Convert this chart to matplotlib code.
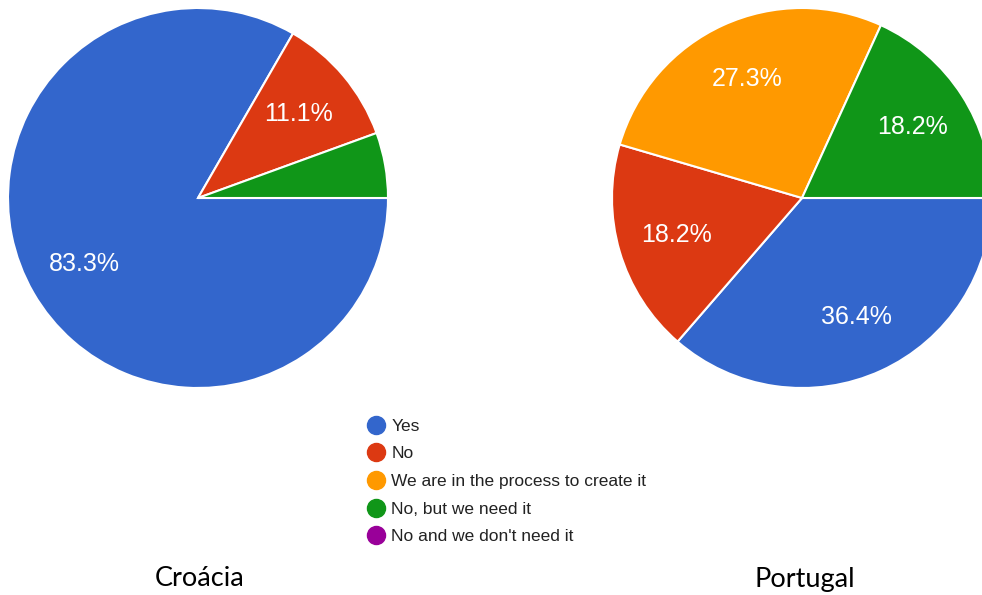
import matplotlib.pyplot as plt
from matplotlib.lines import Line2D

# answer categories (legend order)
categories = ["Yes", "No", "We are in the process to create it",
              "No, but we need it", "No and we don't need it"]
colors = ["#3366CC", "#DC3912", "#FF9900", "#109618", "#990099"]

# response counts per country
croacia = [15, 2, 0, 1, 0]
portugal = [4, 2, 3, 2, 0]

W, H = 982, 595
fig = plt.figure(figsize=(W / 100, H / 100), dpi=100)


def pie_axes(cx, cy, r):
    # axes in pixel coords (top-left origin) -> figure fraction
    return fig.add_axes([(cx - r) / W, (H - cy - r) / H, 2 * r / W, 2 * r / H])


def draw_pie(ax, values):
    vals = [v for v in values if v > 0]
    cols = [c for v, c in zip(values, colors) if v > 0]
    ax.pie(vals, colors=cols, startangle=0, counterclock=False, radius=1,
           autopct=lambda p: f"{p:.1f}%" if p > 8 else "", pctdistance=0.69,
           wedgeprops=dict(edgecolor="white", linewidth=1.5),
           textprops=dict(color="white", fontsize=18, family="Liberation Sans"))
    ax.set_xlim(-1.0, 1.0)
    ax.set_ylim(-1.0, 1.0)
    ax.axis("off")


ax1 = pie_axes(198, 198, 190)
draw_pie(ax1, croacia)
ax2 = pie_axes(802, 198, 190)
draw_pie(ax2, portugal)

handles = [Line2D([0], [0], marker="o", linestyle="", markersize=13,
                  markerfacecolor=c, markeredgecolor=c) for c in colors]
fig.legend(handles, categories, loc="upper left",
           bbox_to_anchor=(347 / W, 1 - 403 / H), frameon=False,
           prop=dict(family="Liberation Sans", size=12.5),
           labelspacing=0.72, handletextpad=0.15, handlelength=1.5,
           labelcolor="#222222")

fig.text(200 / W, 1 - 579 / H, "Croácia", ha="center", va="center",
         fontsize=19.5, family="Lato")
fig.text(805 / W, 1 - 579 / H, "Portugal", ha="center", va="center",
         fontsize=19.5, family="Lato")

fig.savefig("out.png", dpi=100)
